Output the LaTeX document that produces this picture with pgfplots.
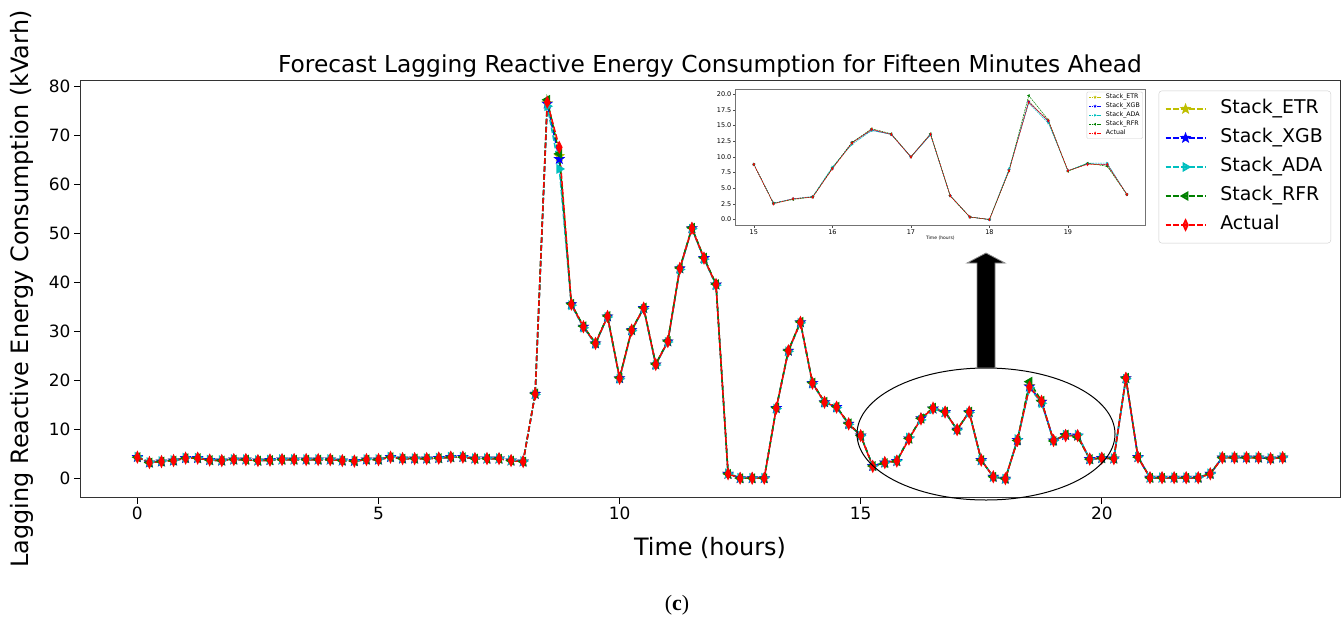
\documentclass[border=0pt]{standalone}
\usepackage{pgfplots}
\pgfplotsset{compat=1.18}
\usepackage{pgfplotstable}
\usepackage{fontspec}
\setmainfont{DejaVu Sans}
\newfontfamily\capfont{Liberation Serif}

% matplotlib single-letter colours
\definecolor{mplY}{rgb}{0.75,0.75,0}
\definecolor{mplB}{rgb}{0,0,1}
\definecolor{mplC}{rgb}{0,0.75,0.75}
\definecolor{mplG}{rgb}{0,0.5,0}
\definecolor{mplR}{rgb}{1,0,0}

% filled five-pointed star
\pgfdeclareplotmark{fstar}{%
  \pgfpathmoveto{\pgfpointpolar{90}{\pgfplotmarksize}}%
  \pgfpathlineto{\pgfpointpolar{126}{0.42\pgfplotmarksize}}%
  \pgfpathlineto{\pgfpointpolar{162}{\pgfplotmarksize}}%
  \pgfpathlineto{\pgfpointpolar{198}{0.42\pgfplotmarksize}}%
  \pgfpathlineto{\pgfpointpolar{234}{\pgfplotmarksize}}%
  \pgfpathlineto{\pgfpointpolar{270}{0.42\pgfplotmarksize}}%
  \pgfpathlineto{\pgfpointpolar{306}{\pgfplotmarksize}}%
  \pgfpathlineto{\pgfpointpolar{342}{0.42\pgfplotmarksize}}%
  \pgfpathlineto{\pgfpointpolar{18}{\pgfplotmarksize}}%
  \pgfpathlineto{\pgfpointpolar{54}{0.42\pgfplotmarksize}}%
  \pgfpathclose
  \pgfusepathqfillstroke
}

% 15-minute readings (kVarh): forecasts of the four stacked models and the measured value
\pgfplotstableread{
t     etr   xgb   ada   rfr   act
0.00  4.4   4.4   4.5   4.4   4.4
0.25  3.3   3.3   3.4   3.3   3.3
0.50  3.5   3.5   3.6   3.5   3.5
0.75  3.7   3.7   3.8   3.7   3.7
1.00  4.2   4.2   4.3   4.2   4.2
1.25  4.2   4.2   4.3   4.2   4.2
1.50  3.8   3.8   3.9   3.8   3.8
1.75  3.7   3.7   3.8   3.7   3.7
2.00  3.9   3.9   4.0   3.9   3.9
2.25  3.9   3.9   4.0   3.9   3.9
2.50  3.7   3.7   3.8   3.7   3.7
2.75  3.8   3.8   3.9   3.8   3.8
3.00  3.9   3.9   4.0   3.9   3.9
3.25  3.9   3.9   4.0   3.9   3.9
3.50  3.9   3.9   4.0   3.9   3.9
3.75  3.9   3.9   4.0   3.9   3.9
4.00  3.9   3.9   4.0   3.9   3.9
4.25  3.7   3.7   3.8   3.7   3.7
4.50  3.6   3.6   3.7   3.6   3.6
4.75  3.9   3.9   4.0   3.9   3.9
5.00  3.9   3.9   4.0   3.9   3.9
5.25  4.4   4.4   4.5   4.4   4.4
5.50  4.1   4.1   4.2   4.1   4.1
5.75  4.1   4.1   4.2   4.1   4.1
6.00  4.1   4.1   4.2   4.1   4.1
6.25  4.2   4.2   4.3   4.2   4.2
6.50  4.4   4.4   4.5   4.4   4.4
6.75  4.4   4.4   4.5   4.4   4.4
7.00  4.1   4.1   4.2   4.1   4.1
7.25  4.1   4.1   4.2   4.1   4.1
7.50  4.1   4.1   4.2   4.1   4.1
7.75  3.7   3.7   3.8   3.7   3.7
8.00  3.5   3.5   3.6   3.5   3.5
8.25  17.3  17.3  17.2  17.4  17.3
8.50  76.6  76.5  76.0  77.3  76.8
8.75  65.8  65.2  63.2  66.3  67.6
9.00  35.6  35.6  35.4  35.7  35.6
9.25  31.0  31.0  30.8  31.1  31.0
9.50  27.6  27.6  27.5  27.7  27.6
9.75  33.1  33.1  33.0  33.2  33.1
10.00 20.5  20.5  20.4  20.6  20.5
10.25 30.3  30.3  30.2  30.4  30.3
10.50 34.8  34.8  34.7  34.9  34.8
10.75 23.3  23.3  23.2  23.4  23.3
11.00 28.0  28.0  27.9  28.1  28.0
11.25 42.9  42.9  42.7  43.0  42.9
11.50 51.1  51.1  51.0  51.2  51.1
11.75 45.0  45.0  44.8  45.1  45.0
12.00 39.6  39.6  39.5  39.7  39.6
12.25 1.0   1.0   1.1   1.0   1.0
12.50 0.1   0.1   0.2   0.1   0.1
12.75 0.1   0.1   0.2   0.1   0.1
13.00 0.1   0.1   0.2   0.1   0.1
13.25 14.4  14.4  14.3  14.5  14.4
13.50 26.1  26.1  26.0  26.2  26.1
13.75 31.9  31.9  31.8  32.0  31.9
14.00 19.5  19.5  19.4  19.6  19.5
14.25 15.6  15.6  15.5  15.7  15.6
14.50 14.6  14.6  14.5  14.7  14.6
14.75 11.2  11.2  11.1  11.3  11.2
15.00 8.8   8.8   8.8   8.8   8.8
15.25 2.6   2.6   2.6   2.6   2.5
15.50 3.3   3.3   3.3   3.2   3.3
15.75 3.6   3.6   3.7   3.6   3.6
16.00 8.2   8.2   8.4   8.2   8.1
16.25 12.3  12.3  12.0  12.3  12.2
16.50 14.3  14.3  14.2  14.5  14.4
16.75 13.6  13.6  13.6  13.7  13.6
17.00 10.0  10.0  10.0  10.0  10.0
17.25 13.6  13.6  13.5  13.7  13.6
17.50 3.8   3.8   3.8   3.8   3.8
17.75 0.4   0.4   0.4   0.4   0.4
18.00 0.0   0.0   0.0   0.0   0.0
18.25 7.9   7.9   8.1   7.8   7.8
18.50 18.9  18.8  18.6  19.8  18.7
18.75 15.7  15.7  15.4  15.9  15.8
19.00 7.8   7.8   7.8   7.7   7.8
19.25 8.9   8.9   9.0   9.0   8.8
19.50 8.7   8.8   9.0   8.5   8.8
19.75 4.0   4.0   4.0   4.0   4.0
20.00 4.2   4.2   4.3   4.2   4.2
20.25 4.1   4.1   4.2   4.1   4.1
20.50 20.5  20.5  20.4  20.6  20.5
20.75 4.4   4.4   4.5   4.4   4.4
21.00 0.2   0.2   0.3   0.2   0.2
21.25 0.2   0.2   0.3   0.2   0.2
21.50 0.2   0.2   0.3   0.2   0.2
21.75 0.2   0.2   0.3   0.2   0.2
22.00 0.2   0.2   0.3   0.2   0.2
22.25 1.0   1.0   1.1   1.0   1.0
22.50 4.3   4.3   4.4   4.3   4.3
22.75 4.3   4.3   4.4   4.3   4.3
23.00 4.3   4.3   4.4   4.3   4.3
23.25 4.3   4.3   4.4   4.3   4.3
23.50 4.1   4.1   4.2   4.1   4.1
23.75 4.3   4.3   4.4   4.3   4.3
}\energy

\pgfplotsset{
  sETR/.style={mplY, mark=fstar, mark options={solid, fill=mplY, scale=0.8}},
  sXGB/.style={mplB, mark=fstar, mark options={solid, fill=mplB, scale=0.8}},
  sADA/.style={mplC, mark=triangle*, mark options={solid, fill=mplC, rotate=-90, scale=0.85}},
  sRFR/.style={mplG, mark=triangle*, mark options={solid, fill=mplG, rotate=90, scale=0.85}},
  sACT/.style={mplR, mark=diamond*, mark options={solid, fill=mplR, xscale=0.65}},
}

\begin{document}
\begin{tikzpicture}
\path[use as bounding box] (0bp,0bp) rectangle (1343bp,-619bp);

\begin{axis}[
  at={(80bp,-497.7bp)}, anchor=south west,
  scale only axis, width=1260bp, height=417bp,
  xmin=-1.19, xmax=24.94, ymin=-3.87, ymax=81.2,
  xtick={0,5,10,15,20}, ytick={0,10,...,80},
  tick pos=left, tick align=outside,
  major tick length=6bp,
  tick style={black, line width=0.8bp},
  axis line style={line width=0.8bp, black!80},
  ticklabel style={font=\fontsize{17}{17}\selectfont},
  /pgf/number format/assume math mode=true,
  every axis plot/.append style={line width=1.5bp, dash pattern=on 5.5bp off 2.4bp, mark size=5bp},
  legend cell align=left,
  legend image code/.code={\draw[mark repeat=2, mark phase=2, #1] plot coordinates {(0bp,0bp) (20bp,0bp) (40bp,0bp)};},
  legend style={at={(1,1)}, anchor=north east, xshift=-9bp, yshift=-10bp,
    draw=black!20, rounded corners=3bp, fill=white, fill opacity=0.8, text opacity=1,
    font=\fontsize{19}{19}\selectfont, inner xsep=6bp, inner ysep=6.6bp,
    row sep=6bp, column sep=12bp,
    nodes={text height=14bp, text depth=5bp, inner ysep=2bp, inner xsep=2bp}},
]
\addplot[sETR] table[x=t, y=etr] {\energy};
\addlegendentry{Stack\_ETR}
\addplot[sXGB] table[x=t, y=xgb] {\energy};
\addlegendentry{Stack\_XGB}
\addplot[sADA] table[x=t, y=ada] {\energy};
\addlegendentry{Stack\_ADA}
\addplot[sRFR] table[x=t, y=rfr] {\energy};
\addlegendentry{Stack\_RFR}
\addplot[sACT] table[x=t, y=act] {\energy};
\addlegendentry{Actual}
\end{axis}

% zoomed view of the afternoon window 15:00-19:45
\begin{axis}[
  at={(735bp,-225.7bp)}, anchor=south west,
  scale only axis, width=410.7bp, height=136.4bp,
  xmin=14.76, xmax=19.99, ymin=-0.99, ymax=20.8,
  xtick={15,16,17,18,19}, ytick={0,2.5,...,20},
  yticklabel style={/pgf/number format/.cd, fixed, fixed zerofill, precision=1},
  tick pos=left, tick align=outside, major tick length=2bp,
  tick style={black!70, line width=0.4bp},
  ticklabel style={font=\fontsize{6.5}{6.5}\selectfont, inner sep=1.5bp},
  /pgf/number format/assume math mode=true,
  axis line style={black!55, line width=0.7bp},
  axis background/.style={fill=white},
  xlabel={Time (hours)},
  xlabel style={font=\fontsize{4.5}{4.5}\selectfont, inner sep=0.5bp},
  restrict x to domain=14.9:19.8,
  every axis plot/.append style={line width=0.5bp, dash pattern=on 1.8bp off 0.8bp, mark size=1.3bp},
  legend cell align=left,
  legend image code/.code={\draw[mark repeat=2, mark phase=2, #1] plot coordinates {(0bp,0bp) (6bp,0bp) (12bp,0bp)};},
  legend style={at={(1,1)}, anchor=north east, xshift=-3bp, yshift=-2.5bp,
    draw=black!20, rounded corners=1bp, fill=white, fill opacity=0.8, text opacity=1,
    font=\fontsize{6.3}{6.3}\selectfont, inner xsep=2bp, inner ysep=1.5bp,
    row sep=1.5bp, column sep=4bp,
    nodes={text height=4.8bp, text depth=1.5bp, inner ysep=0.6bp, inner xsep=0.6bp}},
]
\addplot[sETR] table[x=t, y=etr] {\energy};
\addlegendentry{Stack\_ETR}
\addplot[sXGB] table[x=t, y=xgb] {\energy};
\addlegendentry{Stack\_XGB}
\addplot[sADA] table[x=t, y=ada] {\energy};
\addlegendentry{Stack\_ADA}
\addplot[sRFR] table[x=t, y=rfr] {\energy};
\addlegendentry{Stack\_RFR}
\addplot[sACT] table[x=t, y=act] {\energy};
\addlegendentry{Actual}
\end{axis}

% highlight of the zoomed window and the pointer to it
\draw[black, line width=1bp] (986bp,-434bp) ellipse [x radius=129bp, y radius=66bp];
\fill[black, draw=black!45, line width=0.8bp]
  (977bp,-368bp) -- (977bp,-263bp) -- (967bp,-263bp) -- (986bp,-253bp)
  -- (1005bp,-263bp) -- (995bp,-263bp) -- (995bp,-368bp) -- cycle;

% titles and labels
\node[anchor=base, font=\fontsize{23.4}{23.4}\selectfont] at (710bp,-72bp)
  {Forecast Lagging Reactive Energy Consumption for Fifteen Minutes Ahead};
\node[anchor=base, font=\fontsize{24}{24}\selectfont] at (710bp,-555bp) {Time (hours)};
\node[anchor=base, rotate=90, font=\fontsize{24}{24}\selectfont] at (28bp,-289bp)
  {Lagging Reactive Energy Consumption (kVarh)};
\node[anchor=base, font=\capfont\fontsize{22}{22}\selectfont] at (677bp,-610bp) {(\textbf{c})};
\end{tikzpicture}
\end{document}
